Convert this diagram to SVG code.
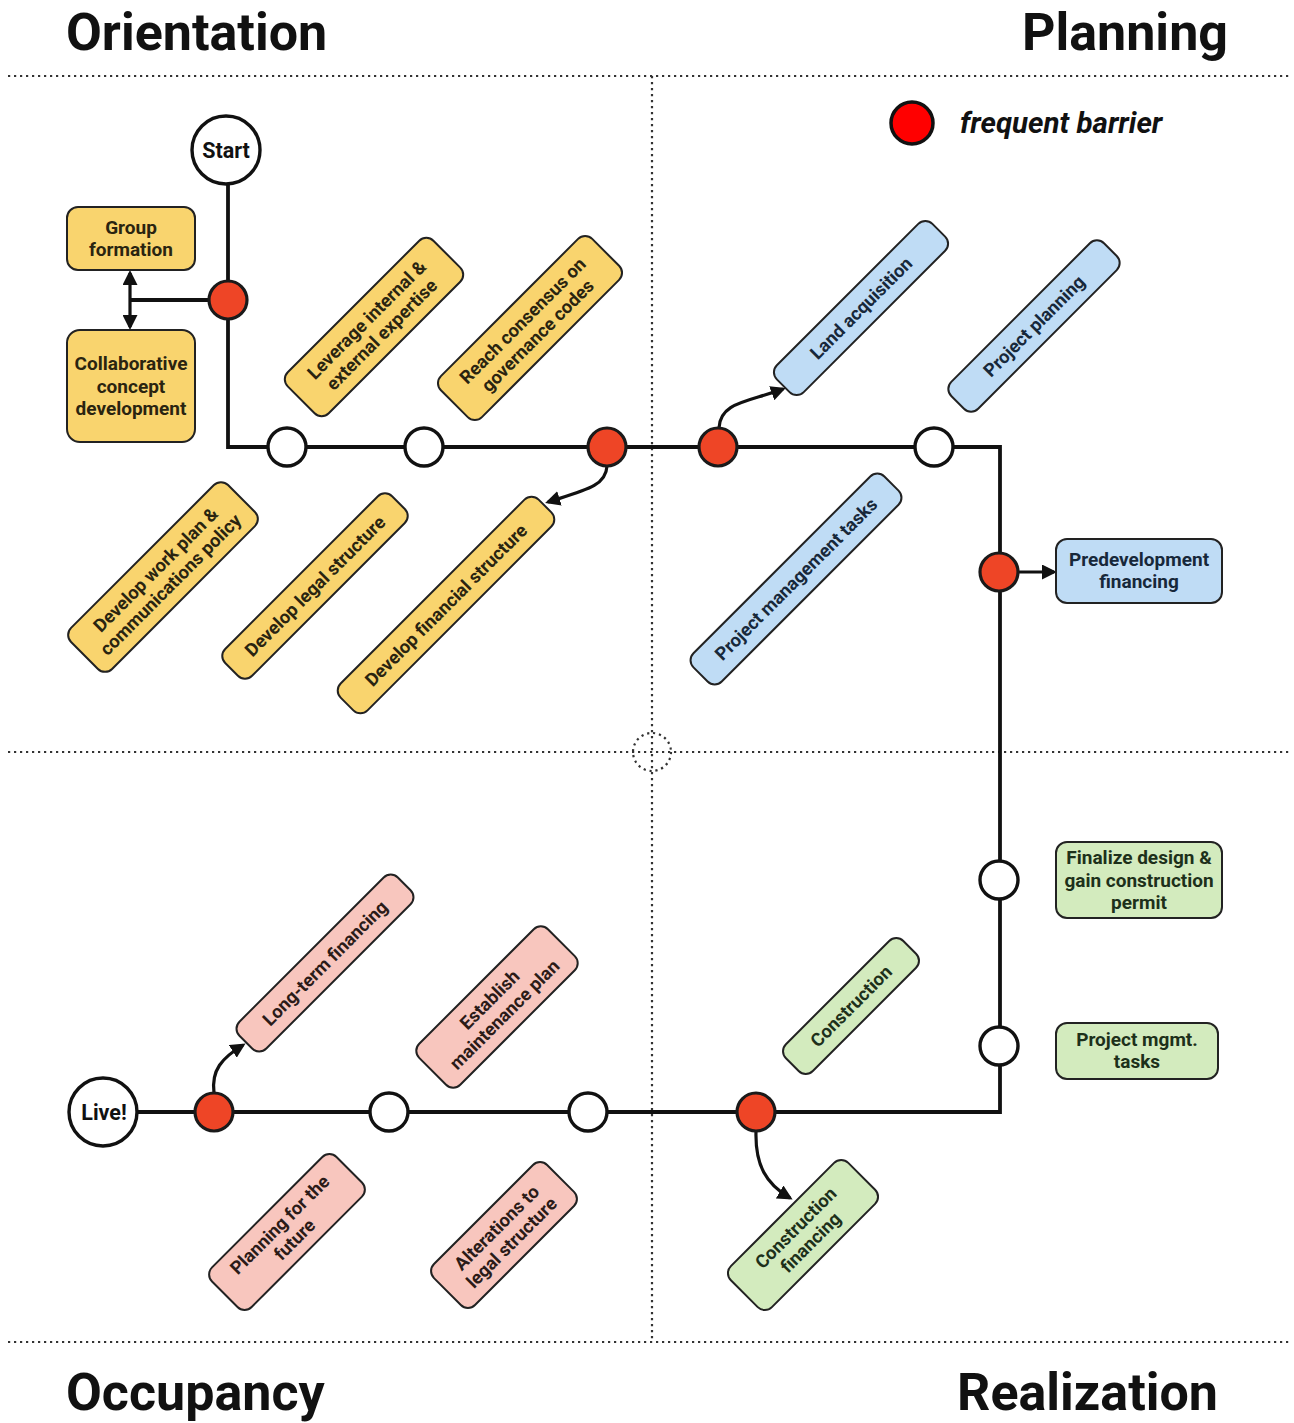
<svg xmlns="http://www.w3.org/2000/svg" width="1294" height="1423" viewBox="0 0 1294 1423">
  <defs>
    <marker id="arrow" viewBox="0 0 10 10" refX="8" refY="5" markerWidth="15" markerHeight="15" markerUnits="userSpaceOnUse" orient="auto-start-reverse">
      <path d="M0,0 L10,5 L0,10 z" fill="#111"/>
    </marker>
  </defs>
  <style>
    .title{font-family:Roboto,"Liberation Sans",sans-serif;font-weight:700;font-size:52px;fill:#111}
    .grid{stroke:#333;stroke-width:2.2;stroke-dasharray:2.2 3.8;fill:none}
    .track{stroke:#111;stroke-width:3.8;fill:none}
    .link{stroke:#111;stroke-width:3.2;fill:none}
    .stop{fill:#fff;stroke:#111;stroke-width:3.4}
    .barrier{fill:#ee4526;stroke:#1a1a1a;stroke-width:3.2}
    .box rect{stroke:#222;stroke-width:2}
    .lbl{font-family:Roboto,"Liberation Sans",sans-serif;font-weight:700;font-size:18.3px;text-anchor:middle}
    .up .lbl{font-size:19px}
    .y rect{fill:#f9d46e} .y text{fill:#2a2410}
    .b rect{fill:#bfdcf5} .b text{fill:#17283a}
    .g rect{fill:#d3ebbe} .g text{fill:#1d301a}
    .p rect{fill:#f8c6be} .p text{fill:#2b1b18}
    .term text{font-family:Roboto,"Liberation Sans",sans-serif;font-weight:700;font-size:21.5px;text-anchor:middle;fill:#111}
  </style>

  <rect width="1294" height="1423" fill="#fff"/>

  <!-- quadrant grid -->
  <g id="grid">
    <line class="grid" x1="8" y1="76" x2="1292" y2="76"/>
    <line class="grid" x1="8" y1="752" x2="1292" y2="752"/>
    <line class="grid" x1="8" y1="1342" x2="1292" y2="1342"/>
    <line class="grid" x1="652" y1="76" x2="652" y2="1342"/>
    <circle cx="652" cy="752" r="19" fill="#fff" class="grid"/>
  </g>

  <!-- phase titles -->
  <g id="titles">
    <text class="title" x="66" y="50">Orientation</text>
    <text class="title" x="1228" y="50" text-anchor="end">Planning</text>
    <text class="title" x="66" y="1410">Occupancy</text>
    <text class="title" x="1218" y="1410" text-anchor="end">Realization</text>
  </g>

  <!-- legend -->
  <g id="legend">
    <circle cx="912" cy="123" r="21" fill="#ff0000" stroke="#111" stroke-width="3.5"/>
    <text x="960" y="133" font-family="Roboto, 'Liberation Sans', sans-serif" font-weight="700" font-style="italic" font-size="29.5" fill="#111">frequent barrier</text>
  </g>

  <!-- connectors -->
  <g id="connectors">
    <path class="track" d="M228,184 V447 H1000 V1112 H137"/>
    <path class="track" d="M209,300 H130"/>
    <path class="link" d="M130,300 V273" stroke-width="3.6" marker-end="url(#arrow)"/>
    <path class="link" d="M130,300 V327" stroke-width="3.6" marker-end="url(#arrow)"/>
    <path class="link" d="M607,466 C606,486 586,490 548,502" marker-end="url(#arrow)"/>
    <path class="link" d="M719,428 C720,402 748,402 783,389" marker-end="url(#arrow)"/>
    <path class="link" d="M1018,572 H1054" marker-end="url(#arrow)"/>
    <path class="link" d="M214,1093 C211,1070 222,1058 243,1045" marker-end="url(#arrow)"/>
    <path class="link" d="M756,1131 C755,1165 766,1184 790,1198" marker-end="url(#arrow)"/>
  </g>

  <!-- terminals -->
  <g id="start" class="term">
    <circle cx="226" cy="150" r="34" class="stop"/>
    <text x="226" y="158">Start</text>
  </g>
  <g id="live" class="term">
    <circle cx="103" cy="1112" r="34" class="stop"/>
    <text x="104" y="1120">Live!</text>
  </g>

  <!-- stops along the track -->
  <g id="stops">
    <circle class="barrier" cx="228" cy="300" r="19"/>
    <circle class="stop" cx="287" cy="447" r="19"/>
    <circle class="stop" cx="424" cy="447" r="19"/>
    <circle class="barrier" cx="607" cy="447" r="19"/>
    <circle class="barrier" cx="718" cy="447" r="19"/>
    <circle class="stop" cx="934" cy="447" r="19"/>
    <circle class="barrier" cx="999" cy="572" r="19"/>
    <circle class="stop" cx="999" cy="880" r="19"/>
    <circle class="stop" cx="999" cy="1046" r="19"/>
    <circle class="barrier" cx="756" cy="1112" r="19"/>
    <circle class="stop" cx="588" cy="1112" r="19"/>
    <circle class="stop" cx="389" cy="1112" r="19"/>
    <circle class="barrier" cx="214" cy="1112" r="19"/>
  </g>

  <!-- Orientation -->
  <g id="group-formation" class="box y up">
    <rect x="67" y="207" width="128" height="63" rx="11"/>
    <text class="lbl" x="131" y="234"><tspan x="131">Group</tspan><tspan x="131" dy="22">formation</tspan></text>
  </g>
  <g id="collaborative-concept" class="box y up">
    <rect x="67" y="330" width="128" height="112" rx="13"/>
    <text class="lbl" x="131" y="370"><tspan x="131">Collaborative</tspan><tspan x="131" dy="22.5">concept</tspan><tspan x="131" dy="22.5">development</tspan></text>
  </g>
  <g id="leverage-expertise" class="box y" transform="translate(374,327) rotate(-45)">
    <rect x="-103" y="-29" width="206" height="58" rx="10"/>
    <text class="lbl" y="-4"><tspan x="0">Leverage internal &amp;</tspan><tspan x="0" dy="21">external expertise</tspan></text>
  </g>
  <g id="governance-codes" class="box y" transform="translate(530,328) rotate(-45)">
    <rect x="-107" y="-29" width="214" height="58" rx="10"/>
    <text class="lbl" y="-4"><tspan x="0">Reach consensus on</tspan><tspan x="0" dy="21">governance codes</tspan></text>
  </g>
  <g id="work-plan" class="box y" transform="translate(163,577) rotate(-45)">
    <rect x="-111" y="-29" width="222" height="58" rx="10"/>
    <text class="lbl" y="-4"><tspan x="0">Develop work plan &amp;</tspan><tspan x="0" dy="21">communications policy</tspan></text>
  </g>
  <g id="legal-structure" class="box y" transform="translate(315,586) rotate(-45)">
    <rect x="-118" y="-19" width="236" height="38" rx="10"/>
    <text class="lbl" x="0" y="6.5">Develop legal structure</text>
  </g>
  <g id="financial-structure" class="box y" transform="translate(446,605) rotate(-45)">
    <rect x="-140" y="-19" width="280" height="38" rx="10"/>
    <text class="lbl" x="0" y="6.5">Develop financial structure</text>
  </g>

  <!-- Planning -->
  <g id="land-acquisition" class="box b" transform="translate(861,308) rotate(-45)">
    <rect x="-110" y="-19" width="220" height="38" rx="10"/>
    <text class="lbl" x="0" y="6.5">Land acquisition</text>
  </g>
  <g id="project-planning" class="box b" transform="translate(1034,326) rotate(-45)">
    <rect x="-108" y="-19" width="216" height="38" rx="10"/>
    <text class="lbl" x="0" y="6.5">Project planning</text>
  </g>
  <g id="project-management" class="box b" transform="translate(796,579) rotate(-45)">
    <rect x="-135" y="-20" width="270" height="40" rx="10"/>
    <text class="lbl" x="0" y="6.5">Project management tasks</text>
  </g>
  <g id="predevelopment-financing" class="box b up">
    <rect x="1056" y="539" width="166" height="64" rx="11"/>
    <text class="lbl" y="566"><tspan x="1139">Predevelopment</tspan><tspan x="1139" dy="22">financing</tspan></text>
  </g>

  <!-- Realization -->
  <g id="finalize-design" class="box g up">
    <rect x="1056" y="842" width="166" height="76" rx="11"/>
    <text class="lbl" y="864"><tspan x="1139">Finalize design &amp;</tspan><tspan x="1139" dy="22.5">gain construction</tspan><tspan x="1139" dy="22.5">permit</tspan></text>
  </g>
  <g id="project-mgmt-tasks" class="box g up">
    <rect x="1056" y="1023" width="162" height="56" rx="11"/>
    <text class="lbl" y="1046"><tspan x="1137">Project mgmt.</tspan><tspan x="1137" dy="22">tasks</tspan></text>
  </g>
  <g id="construction" class="box g" transform="translate(851,1006) rotate(-45)">
    <rect x="-83" y="-19" width="166" height="38" rx="10"/>
    <text class="lbl" x="0" y="6.5">Construction</text>
  </g>
  <g id="construction-financing" class="box g" transform="translate(803,1235) rotate(-45)">
    <rect x="-83" y="-29" width="166" height="58" rx="10"/>
    <text class="lbl" y="-4"><tspan x="0">Construction</tspan><tspan x="0" dy="21">financing</tspan></text>
  </g>

  <!-- Occupancy -->
  <g id="long-term-financing" class="box p" transform="translate(325,963) rotate(-45)">
    <rect x="-112" y="-19" width="224" height="38" rx="10"/>
    <text class="lbl" x="0" y="6.5">Long-term financing</text>
  </g>
  <g id="maintenance-plan" class="box p" transform="translate(497,1007) rotate(-45)">
    <rect x="-91" y="-29" width="182" height="58" rx="10"/>
    <text class="lbl" y="-4"><tspan x="0">Establish</tspan><tspan x="0" dy="21">maintenance plan</tspan></text>
  </g>
  <g id="planning-future" class="box p" transform="translate(287,1232) rotate(-45)">
    <rect x="-88" y="-28" width="176" height="56" rx="10"/>
    <text class="lbl" y="-4"><tspan x="0">Planning for the</tspan><tspan x="0" dy="21">future</tspan></text>
  </g>
  <g id="legal-alterations" class="box p" transform="translate(504,1235) rotate(-45)">
    <rect x="-80" y="-29" width="160" height="58" rx="10"/>
    <text class="lbl" y="-4"><tspan x="0">Alterations to</tspan><tspan x="0" dy="21">legal structure</tspan></text>
  </g>
</svg>
